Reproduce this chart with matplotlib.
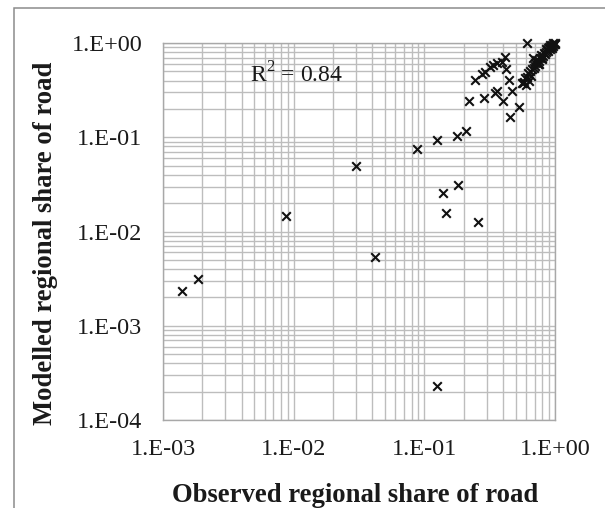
import matplotlib
matplotlib.use("Agg")
import matplotlib.pyplot as plt
from matplotlib.patches import Rectangle

# Observed vs modelled regional share of road
observed = [
    0.00139, 0.00186, 0.00873, 0.0300, 0.0419, 0.0877, 0.124, 0.1256, 0.138, 0.146,
    0.177, 0.181, 0.208, 0.221, 0.258, 0.244, 0.274, 0.286, 0.292, 0.318,
    0.337, 0.357, 0.390, 0.414, 0.420, 0.445, 0.466, 0.347, 0.361, 0.397,
    0.452, 0.532, 0.612,
    0.571, 0.555, 0.600, 0.589, 0.624, 0.662, 0.681, 0.702, 0.744, 0.760,
    0.789, 0.810, 0.837, 0.860, 0.887, 0.910, 0.941, 0.960, 0.998, 1.000,
    0.630, 0.660, 0.720, 0.780, 0.850, 0.920, 0.970,
    0.580, 0.610, 0.645, 0.690, 0.735, 0.770, 0.800, 0.825, 0.870, 0.900,
    0.930, 0.950, 0.985, 0.700, 0.760, 0.880, 0.940,
]
modelled = [
    0.00234, 0.00311, 0.0147, 0.0496, 0.0054, 0.0745, 0.000231, 0.0935, 0.0254, 0.0156,
    0.103, 0.0314, 0.1165, 0.242, 0.0125, 0.408, 0.469, 0.262, 0.496, 0.561,
    0.584, 0.609, 0.634, 0.716, 0.526, 0.405, 0.312, 0.297, 0.312, 0.244,
    0.165, 0.211, 0.997,
    0.373, 0.379, 0.358, 0.428, 0.484, 0.526, 0.687, 0.570, 0.618, 0.600,
    0.671, 0.720, 0.759, 0.800, 0.823, 0.860, 0.892, 0.930, 0.968, 1.000,
    0.400, 0.450, 0.660, 0.740, 0.870, 0.950, 0.990,
    0.390, 0.440, 0.500, 0.540, 0.600, 0.690, 0.700, 0.780, 0.840, 0.900,
    0.910, 0.960, 0.975, 0.620, 0.650, 0.880, 0.920,
]
x_ticks = [1e-3, 1e-2, 1e-1, 1e0]
x_ticklabels = ["1.E-03", "1.E-02", "1.E-01", "1.E+00"]
y_ticks = [1e-4, 1e-3, 1e-2, 1e-1, 1e0]
y_ticklabels = ["1.E-04", "1.E-03", "1.E-02", "1.E-01", "1.E+00"]
r2_text = "R$^{2}$ = 0.84"

plt.rcParams['font.family'] = ['Liberation Serif', 'DejaVu Serif']
plt.rcParams['mathtext.fontset'] = 'custom'
plt.rcParams['mathtext.rm'] = 'Liberation Serif'

W, H = 605, 508
fig = plt.figure(figsize=(W / 100, H / 100), dpi=100)
fig.patch.set_facecolor('white')

# outer frame
fig.patches.append(Rectangle((13.5 / W, -0.05), 1.2, 1 - 8.5 / H + 0.05,
                             transform=fig.transFigure, fill=False,
                             edgecolor='#8c8c8c', linewidth=1.1, zorder=0))

ax = fig.add_axes([163 / W, 88 / H, 392 / W, 377 / H])
ax.set_xscale('log')
ax.set_yscale('log')
ax.set_xlim(1e-3, 1)
ax.set_ylim(1e-4, 1)

grid_col = '#bdbdbd'
ax.grid(True, which='both', color=grid_col, linewidth=1.0)
ax.set_axisbelow(True)
for s in ax.spines.values():
    s.set_color('#a8a8a8')
    s.set_linewidth(1.0)

ax.set_xticks(x_ticks)
ax.set_xticklabels(x_ticklabels)
ax.set_yticks(y_ticks)
ax.set_yticklabels(y_ticklabels)
ax.tick_params(axis='both', which='both', length=0, labelsize=17.5, colors='#1a1a1a')
ax.tick_params(axis='x', pad=14)
ax.tick_params(axis='y', pad=15)

ax.scatter(observed, modelled, marker='x', s=38, color='#111111',
           linewidths=1.5, clip_on=False, zorder=3)

ax.text(0.222, 0.915, r2_text, transform=ax.transAxes, fontsize=17,
        ha='left', va='center', color='#1a1a1a')

ax.set_xlabel("Observed regional share of road", fontsize=19.2, fontweight='bold',
              color='#1a1a1a', va='center')
ax.xaxis.set_label_coords(0.49, -0.199)
ax.set_ylabel("Modelled regional share of road", fontsize=19.2, fontweight='bold',
              color='#1a1a1a', va='center')
ax.yaxis.set_label_coords(-0.301, 0.469)

fig.savefig("out.png", dpi=100, facecolor='white')
